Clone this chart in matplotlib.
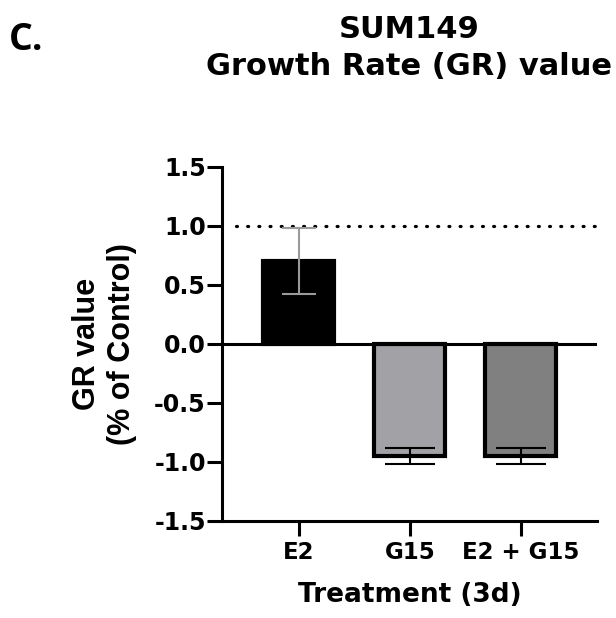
import numpy as np
import matplotlib.pyplot as plt

# GR values (mean, SEM) after 3 days of treatment
treatments = ['E2', 'G15', 'E2 + G15']
gr_mean = [0.70, -0.95, -0.95]
gr_sem = [0.28, 0.07, 0.07]
bar_colors = ['#000000', '#a2a2a6', '#808080']
err_colors = ['#9a9a9a', '#000000', '#000000']
cap_sizes = [12, 18, 18]
control_level = 1.0

plt.rcParams['font.family'] = 'DejaVu Sans'
plt.rcParams['font.weight'] = 'bold'

fig = plt.figure(figsize=(6.16, 6.18), dpi=100)
ax = fig.add_axes([0.360, 0.157, 0.609, 0.573])

x = np.arange(len(treatments))
ax.bar(x, gr_mean, width=0.64, color=bar_colors, edgecolor='black',
       linewidth=3, zorder=2)
for xi, m, s, c, cs in zip(x, gr_mean, gr_sem, err_colors, cap_sizes):
    ax.errorbar(xi, m, yerr=s, fmt='none', ecolor=c, elinewidth=1.5,
                capsize=cs, capthick=1.5, zorder=3)

ax.axhline(0, color='black', linewidth=2.2, zorder=4)
ax.hlines(control_level, -0.57, 2.685, colors='black', linewidth=2.3,
          linestyles=(0, (0.3, 3.2)), capstyle='round', zorder=1)

ax.set_xlim(-0.694, 2.685)
ax.set_ylim(-1.5, 1.5)
ax.set_yticks([-1.5, -1.0, -0.5, 0.0, 0.5, 1.0, 1.5])
ax.set_yticklabels([f'{v:.1f}' for v in ax.get_yticks()])
ax.set_xticks(x)
ax.set_xticklabels(treatments)

for side in ['top', 'right']:
    ax.spines[side].set_visible(False)
for side in ['left', 'bottom']:
    ax.spines[side].set_linewidth(2.2)
ax.tick_params(axis='both', width=2.2, length=10.5)
ax.tick_params(axis='y', labelsize=17, pad=1)
ax.tick_params(axis='x', labelsize=16.5, pad=4)

ax.set_xlabel('Treatment (3d)', fontsize=19, fontweight='bold', labelpad=13)
ax.set_ylabel('GR value\n(% of Control)', fontsize=22, fontweight='bold',
              family='Liberation Sans', labelpad=12, linespacing=1.25)

fig.text(0.664, 0.952, 'SUM149', ha='center', va='center', fontsize=22,
         fontweight='bold')
fig.text(0.664, 0.893, 'Growth Rate (GR) value', ha='center', va='center',
         fontsize=22, fontweight='bold')
fig.text(0.014, 0.935, 'C.', ha='left', va='center', fontsize=27,
         fontweight='bold', family='Open Sans')

fig.savefig('out.png', dpi=100)
